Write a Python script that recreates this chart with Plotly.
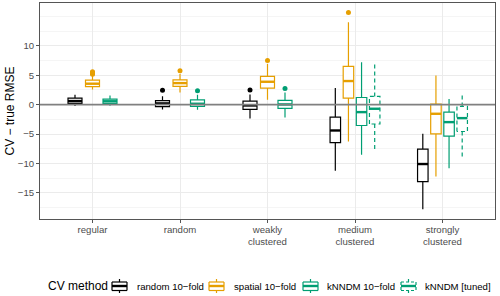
import plotly.graph_objects as go

# ---------------- data ----------------
categories = ["regular", "random", "weakly<br>clustered", "medium<br>clustered", "strongly<br>clustered"]
methods = ["random 10\u2212fold", "spatial 10\u2212fold", "kNNDM 10\u2212fold", "kNNDM [tuned]"]
colors = ["#000000", "#E69F00", "#009E73", "#009E73"]

# box statistics per method, per category (None = not available)
random_lower = [-0.26, -0.85, -2.36, -11.26, -17.8]
random_q1 = [0.19, -0.33, -0.83, -6.45, -13.08]
random_med = [0.6, 0.19, -0.15, -4.4, -10.1]
random_q3 = [1.1, 0.68, 0.6, -2.13, -7.57]
random_upper = [1.67, 1.4, 1.72, 2.8, -4.97]
random_out = [[], [2.45], [2.46], [], []]

spatial_lower = [2.57, 2.06, 0.82, -6.27, -12.2]
spatial_q1 = [3.05, 3.08, 2.8, 1.1, -4.97]
spatial_med = [3.55, 3.65, 3.88, 4.0, -1.56]
spatial_q3 = [4.15, 4.2, 4.78, 6.48, 0.08]
spatial_upper = [4.9, 5.2, 6.9, 14.0, 4.95]
spatial_out = [[5.15, 5.3, 5.45, 5.6], [5.75], [7.5], [15.66], []]

knndm_lower = [-0.2, -0.88, -2.2, -8.54, -10.8]
knndm_q1 = [0.19, -0.3, -0.66, -3.55, -5.37]
knndm_med = [0.56, 0.14, 0.02, -1.28, -2.98]
knndm_q3 = [0.94, 0.8, 0.7, 1.2, -1.28]
knndm_upper = [1.55, 1.67, 2.06, 7.2, 0.94]
knndm_out = [[], [2.35], [2.74], [], []]

tuned_lower = [None, None, None, -7.8, -9.27]
tuned_q1 = [None, None, None, -3.3, -4.57]
tuned_med = [None, None, None, -0.71, -2.3]
tuned_q3 = [None, None, None, 1.38, -0.32]
tuned_upper = [None, None, None, 7.2, 1.95]
tuned_out = [[], [], [], [], []]

stats = [
    (random_lower, random_q1, random_med, random_q3, random_upper, random_out),
    (spatial_lower, spatial_q1, spatial_med, spatial_q3, spatial_upper, spatial_out),
    (knndm_lower, knndm_q1, knndm_med, knndm_q3, knndm_upper, knndm_out),
    (tuned_lower, tuned_q1, tuned_med, tuned_q3, tuned_upper, tuned_out),
]

ytickvals = [-15, -10, -5, 0, 5, 10]
yticktext = ["\u221215", "\u221210", "\u22125", "0", "5", "10"]

# ---------------- layout constants ----------------
W, H = 500, 296
ML, MR, MT, MB = 40, 5, 3, 77
DODGE = 0.6
BOXFRAC = 0.8
LW = 1.2
MEDW = 2.4

fig = go.Figure()

for ci, cat in enumerate(categories):
    present = [m for m in range(len(methods)) if stats[m][2][ci] is not None]
    n = len(present)
    slot = DODGE / n
    for k, m in enumerate(present):
        lo, q1, med, q3, up, outs = (s[ci] for s in stats[m])
        xc = ci - DODGE / 2 + slot * (k + 0.5)
        bw = slot * BOXFRAC
        col = colors[m]
        if m < 3:
            fig.add_trace(go.Box(
                x=[xc], q1=[q1], median=[med], q3=[q3], lowerfence=[lo], upperfence=[up],
                width=bw, line=dict(color=col, width=LW), fillcolor="white",
                whiskerwidth=0, showlegend=False, hoverinfo="skip"))
        else:
            x0, x1 = xc - bw / 2, xc + bw / 2
            xs = [x0, x0, x1, x1, x0, None, xc, xc, None, xc, xc]
            ys = [q1, q3, q3, q1, q1, None, q3, up, None, q1, lo]
            fig.add_trace(go.Scatter(
                x=xs, y=ys, mode="lines", line=dict(color=col, width=LW, dash="4px,3px"),
                showlegend=False, hoverinfo="skip"))
        # thicker median
        fig.add_trace(go.Scatter(
            x=[xc - bw / 2, xc + bw / 2], y=[med, med], mode="lines",
            line=dict(color=col, width=MEDW), showlegend=False, hoverinfo="skip"))
        if outs:
            fig.add_trace(go.Scatter(
                x=[xc] * len(outs), y=outs, mode="markers",
                marker=dict(color=col, size=5), showlegend=False, hoverinfo="skip"))

# zero line
fig.add_shape(type="line", xref="paper", yref="y", x0=0, x1=1, y0=0, y1=0,
              line=dict(color="#808080", width=1.6), layer="above")

# ---------------- manual legend ----------------
PW = W - ML - MR
PH = H - MT - MB

def px_x(p):
    return (p - ML) / PW

def px_y(p):
    return (H - MB - p) / PH

leg_y = 286
fig.add_annotation(x=px_x(46), y=px_y(leg_y), xref="paper", yref="paper",
                   text="CV method", showarrow=False, xanchor="left", yanchor="middle",
                   font=dict(size=12, color="black"))
icon_left = [112, 209, 303, 401]
text_left = [135, 232, 325, 423]
for m in range(len(methods)):
    col = colors[m]
    dash = "solid" if m < 3 else "3px,2px"
    xl, xr = icon_left[m], icon_left[m] + 15
    xm = (xl + xr) / 2
    seg = [
        (xl, leg_y - 4, xl, leg_y + 4.5), (xr, leg_y - 4, xr, leg_y + 4.5),
        (xl, leg_y - 4, xr, leg_y - 4), (xl, leg_y + 4.5, xr, leg_y + 4.5),
        (xm, leg_y - 7, xm, leg_y - 4), (xm, leg_y + 4.5, xm, leg_y + 7),
    ]
    for (a, b, c, d) in seg:
        fig.add_shape(type="line", xref="paper", yref="paper",
                      x0=px_x(a), y0=px_y(b), x1=px_x(c), y1=px_y(d),
                      line=dict(color=col, width=LW, dash=dash))
    fig.add_shape(type="line", xref="paper", yref="paper",
                  x0=px_x(xl), y0=px_y(leg_y), x1=px_x(xr), y1=px_y(leg_y),
                  line=dict(color=col, width=MEDW))
    fig.add_annotation(x=px_x(text_left[m]), y=px_y(leg_y), xref="paper", yref="paper",
                       text=methods[m], showarrow=False, xanchor="left", yanchor="middle",
                       font=dict(size=9.6, color="black"))

fig.update_layout(
    width=W, height=H,
    margin=dict(l=ML, r=MR, t=MT, b=MB),
    plot_bgcolor="white", paper_bgcolor="white",
    font=dict(family="Liberation Sans, Arial, sans-serif", size=9.6, color="#4d4d4d"),
    showlegend=False,
    boxmode="overlay",
)
fig.update_xaxes(
    range=[-0.6, len(categories) - 0.4],
    tickvals=list(range(len(categories))), ticktext=categories,
    showgrid=True, gridcolor="#ebebeb", gridwidth=1,
    zeroline=False,
    showline=True, mirror=True, linecolor="#555555", linewidth=1,
    ticks="outside", ticklen=3, tickcolor="#555555",
    tickfont=dict(size=9.6, color="#4d4d4d"),
    ticklabelstandoff=-2,
)
fig.update_yaxes(
    range=[-19.44, 17.26],
    tickvals=ytickvals, ticktext=yticktext,
    showgrid=True, gridcolor="#ebebeb", gridwidth=1,
    minor=dict(dtick=2.5, tick0=0, showgrid=True, gridcolor="#f5f5f5", gridwidth=1),
    zeroline=False,
    showline=True, mirror=True, linecolor="#555555", linewidth=1,
    ticks="outside", ticklen=3, tickcolor="#555555",
    tickfont=dict(size=9.6, color="#4d4d4d"),
    title=dict(text="CV \u2212 true RMSE", font=dict(size=12, color="black"), standoff=0),
)

fig.write_html("out.html", config={"displayModeBar": False},
               post_script="document.body.style.margin='0';document.body.style.overflow='hidden';")
